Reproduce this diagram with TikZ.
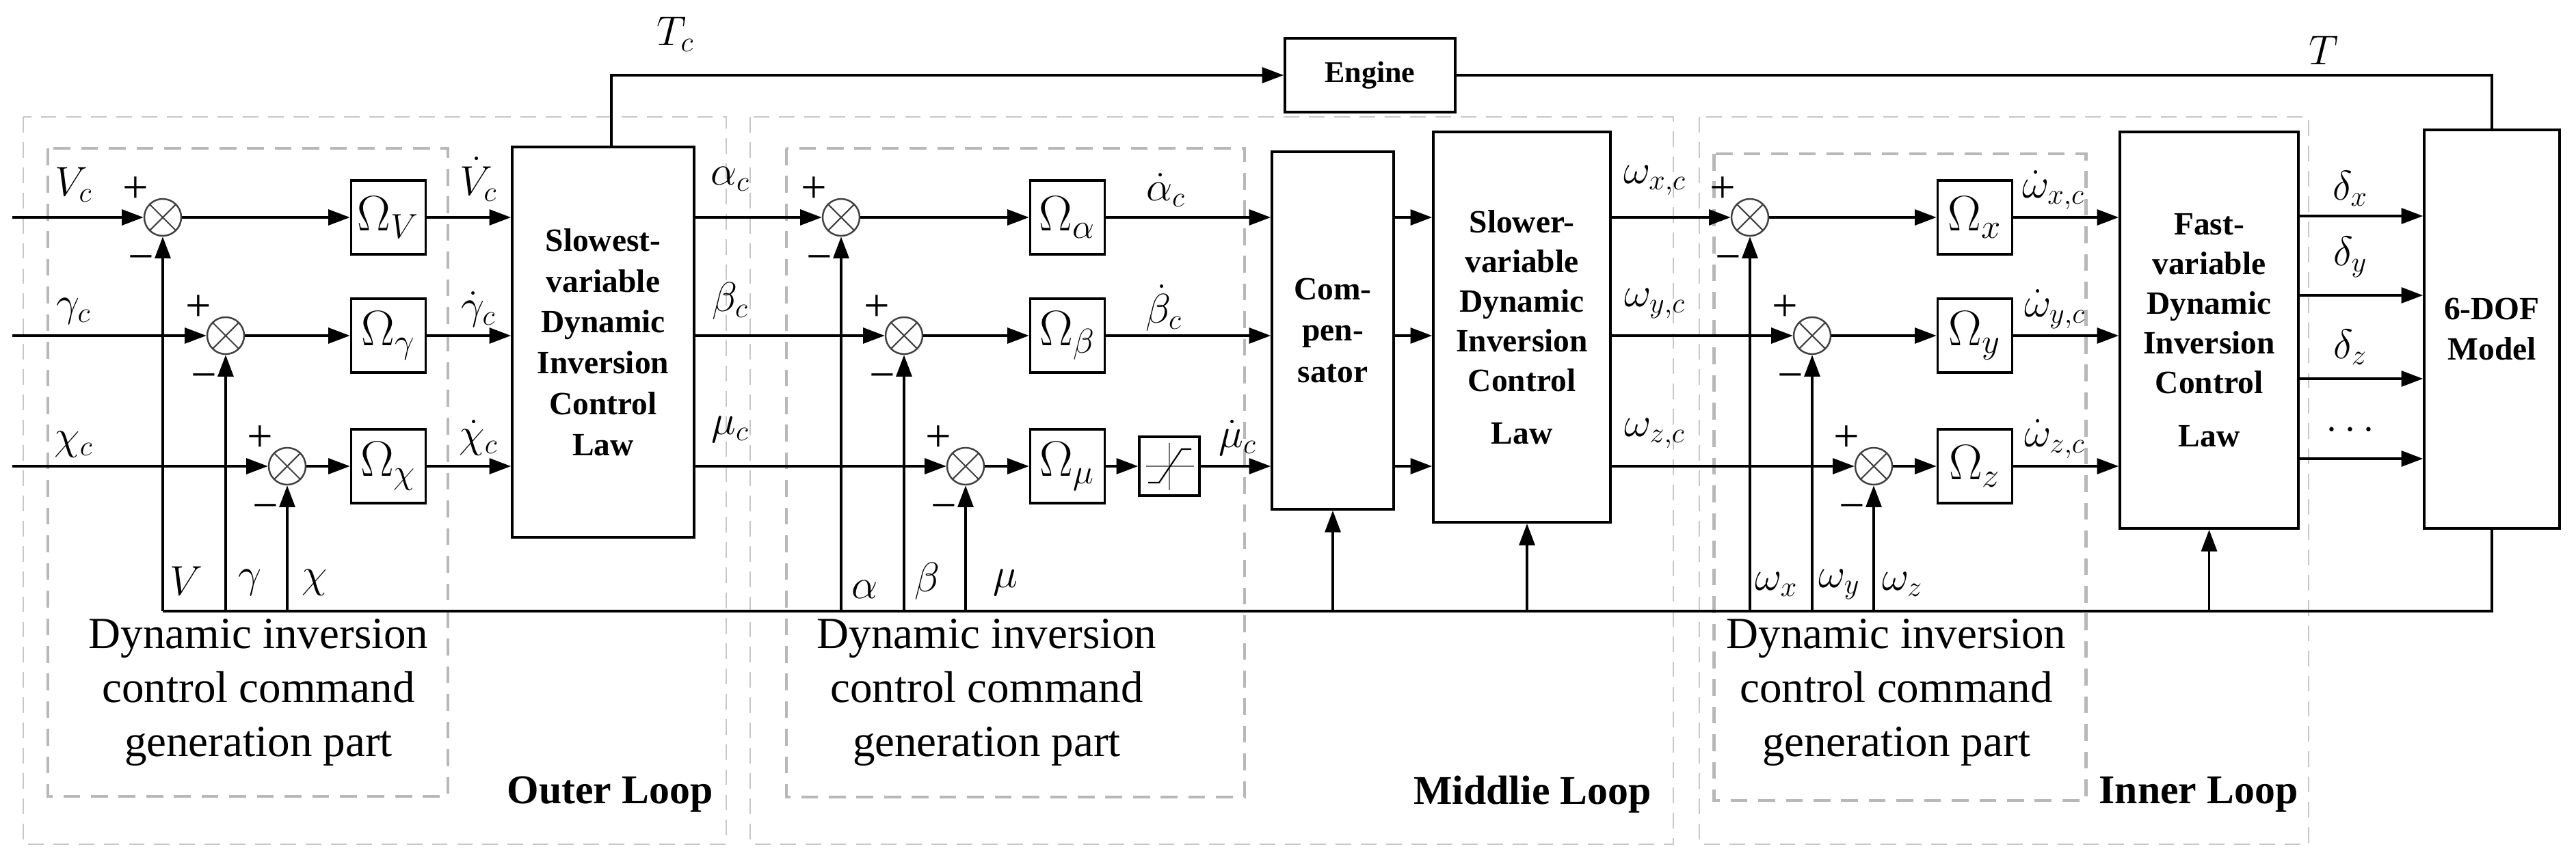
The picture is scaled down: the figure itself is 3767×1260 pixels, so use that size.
\documentclass[tikz,border=0pt]{standalone}
\usepackage{fontspec}
\setmainfont{Liberation Serif}
\usetikzlibrary{arrows.meta,calc}
\begin{document}
\begin{tikzpicture}[x=0.01cm,y=-0.01cm,
  line width=1pt,
  arr/.style={-{Triangle[length=9pt,width=6.5pt]}},
  blk/.style={draw, line width=1pt, fill=white, inner sep=0pt, align=center, font=\fontsize{13.5}{16.5}\selectfont\bfseries},
  omg/.style={draw, line width=1pt, minimum width=1.09cm, minimum height=1.08cm, inner sep=0pt, font=\fontsize{20}{24}\selectfont},
  sumj/.style={draw=black!75, circle, minimum size=0.54cm, inner sep=0pt, line width=0.7pt,
    path picture={\draw[black!75,line width=0.6pt] (path picture bounding box.north west)--(path picture bounding box.south east) (path picture bounding box.north east)--(path picture bounding box.south west);}},
  lbl/.style={font=\fontsize{18}{22}\selectfont, inner sep=0pt},
  sgn/.style={font=\fontsize{19}{22}\selectfont, inner sep=0pt},
  loopbox/.style={draw=black!22, line width=0.8pt, dash pattern=on 6.5pt off 4pt},
  genbox/.style={draw=black!28, line width=1.4pt, dash pattern=on 7pt off 4.5pt},
  desc/.style={align=center, font=\fontsize{18.5}{22.5}\selectfont, inner sep=0pt},
  looplbl/.style={font=\fontsize{17}{20}\selectfont\bfseries, inner sep=0pt},
]
\useasboundingbox (0,0) rectangle (3767,1260);

% ---------- dashed frames ----------
\draw[loopbox] (34,171) rectangle (1062,1235);
\draw[loopbox] (1097,171) rectangle (2447,1235);
\draw[loopbox] (2485,171) rectangle (3376,1235);
\draw[genbox] (70,217) rectangle (655,1165);
\draw[genbox] (1150,217) rectangle (1820,1166);
\draw[genbox] (2506,225) rectangle (3050,1171);

% ---------- blocks ----------
\node[blk, minimum width=2.66cm, minimum height=5.71cm, font=\fontsize{13.5}{17}\selectfont\bfseries] (slowest) at (882,500.5) {Slowest-\\variable\\Dynamic\\Inversion\\Control\\Law};
\node[blk, minimum width=1.78cm, minimum height=5.23cm, font=\fontsize{13.5}{17.3}\selectfont\bfseries] (comp) at (1949,483.5) {Com-\\pen-\\sator};
\node[blk, minimum width=2.59cm, minimum height=5.71cm] (slower) at (2225.5,478.5) {Slower-\\variable\\Dynamic\\Inversion\\Control\\[5.5pt]Law};
\node[blk, minimum width=2.61cm, minimum height=5.80cm] (fast) at (3230.5,483) {Fast-\\variable\\Dynamic\\Inversion\\Control\\[5.5pt]Law};
\node[blk, minimum width=1.98cm, minimum height=5.83cm, font=\fontsize{13.5}{17}\selectfont\bfseries] (dof) at (3644,481.5) {6-DOF\\Model};
\node[blk, minimum width=2.49cm, minimum height=1.08cm, font=\fontsize{12.5}{15}\selectfont\bfseries] (engine) at (2003.5,110) {Engine};

% ---------- sum junctions ----------
\node[sumj] (jV) at (238,318) {};
\node[sumj] (jG) at (330,491) {};
\node[sumj] (jC) at (420,682) {};
\node[sumj] (jA) at (1230,318) {};
\node[sumj] (jB) at (1322,491) {};
\node[sumj] (jM) at (1412,682) {};
\node[sumj] (jX) at (2559,318) {};
\node[sumj] (jY) at (2650,491) {};
\node[sumj] (jZ) at (2740,682) {};

% ---------- Omega boxes ----------
\node[omg] (oV) at (568,318) {$\Omega_V$};
\node[omg] (oG) at (568,491) {$\Omega_\gamma$};
\node[omg] (oC) at (568,682) {$\Omega_\chi$};
\node[omg] (oA) at (1561,318) {$\Omega_\alpha$};
\node[omg] (oB) at (1561,491) {$\Omega_\beta$};
\node[omg] (oM) at (1561,682) {$\Omega_\mu$};
\node[omg] (oX) at (2888,318) {$\Omega_x$};
\node[omg] (oY) at (2888,491) {$\Omega_y$};
\node[omg] (oZ) at (2888,682) {$\Omega_z$};

% saturation block
\node[draw, line width=1pt, minimum width=0.88cm, minimum height=0.86cm, inner sep=0pt] (sat) at (1710,682) {};
\draw[black!55, line width=0.8pt] (1676,682) -- (1746,682) (1710,648) -- (1710,717);
\draw[line width=0.6pt] (1679,706) -- (1695,706) -- (1728,657) -- (1742,657);

% ---------- coordinates ----------
\coordinate (inV) at (18,318);
\coordinate (inG) at (18,491);
\coordinate (inC) at (18,682);
\coordinate (fbV) at (238,894);
\coordinate (fbG) at (330,894);
\coordinate (fbC) at (420,894);
\coordinate (fbA) at (1230,894);
\coordinate (fbB) at (1322,894);
\coordinate (fbM) at (1412,894);
\coordinate (fbX) at (2559,894);
\coordinate (fbY) at (2650,894);
\coordinate (fbZ) at (2740,894);
\coordinate (fbS) at (2233,894);
\coordinate (tcx) at (894,0);
\coordinate (d1) at (0,316);
\coordinate (d2) at (0,432);
\coordinate (d3) at (0,554);
\coordinate (d4) at (0,671);

% ---------- connectors: outer loop ----------
\draw[arr] (inV) -- (jV);
\draw[arr] (inG) -- (jG);
\draw[arr] (inC) -- (jC);
\draw[arr] (jV) -- (oV);
\draw[arr] (jG) -- (oG);
\draw[arr] (jC) -- (oC);
\draw[arr] (oV) -- (oV -| slowest.west);
\draw[arr] (oG) -- (oG -| slowest.west);
\draw[arr] (oC) -- (oC -| slowest.west);
\draw[arr] (fbV) -- (jV);
\draw[arr] (fbG) -- (jG);
\draw[arr] (fbC) -- (jC);

% main feedback line
\draw (dof.south) |- (fbV);

% ---------- middle loop ----------
\draw[arr] (slowest.east |- jA) -- (jA);
\draw[arr] (slowest.east |- jB) -- (jB);
\draw[arr] (slowest.east |- jM) -- (jM);
\draw[arr] (jA) -- (oA);
\draw[arr] (jB) -- (oB);
\draw[arr] (jM) -- (oM);
\draw[arr] (oA) -- (oA -| comp.west);
\draw[arr] (oB) -- (oB -| comp.west);
\draw[arr] (oM) -- (sat);
\draw[arr] (sat) -- (sat -| comp.west);
\draw[arr] (fbA) -- (jA);
\draw[arr] (fbB) -- (jB);
\draw[arr] (fbM) -- (jM);
\draw[arr] (comp.east |- jA) -- (slower.west |- jA);
\draw[arr] (comp.east |- jB) -- (slower.west |- jB);
\draw[arr] (comp.east |- jM) -- (slower.west |- jM);
\draw[arr] (comp.south |- fbV) -- (comp.south);
\draw[arr] (fbS) -- (fbS |- slower.south);

% ---------- inner loop ----------
\draw[arr] (slower.east |- jX) -- (jX);
\draw[arr] (slower.east |- jY) -- (jY);
\draw[arr] (slower.east |- jZ) -- (jZ);
\draw[arr] (jX) -- (oX);
\draw[arr] (jY) -- (oY);
\draw[arr] (jZ) -- (oZ);
\draw[arr] (oX) -- (oX -| fast.west);
\draw[arr] (oY) -- (oY -| fast.west);
\draw[arr] (oZ) -- (oZ -| fast.west);
\draw[arr] (fbX) -- (jX);
\draw[arr] (fbY) -- (jY);
\draw[arr] (fbZ) -- (jZ);
\draw[arr] (fast.south |- fbV) -- (fast.south);
\draw[arr] (fast.east |- d1) -- (dof.west |- d1);
\draw[arr] (fast.east |- d2) -- (dof.west |- d2);
\draw[arr] (fast.east |- d3) -- (dof.west |- d3);
\draw[arr] (fast.east |- d4) -- (dof.west |- d4);

% ---------- thrust path ----------
\draw[arr] (tcx |- slowest.north) |- (engine.west);
\draw (engine.east) -| (dof.north);

% ---------- labels ----------
\node[lbl] (lTc) at (988,50) {$T_c$};
\node[lbl] (lT) at (3398,74) {$T$};

\node[lbl] (lVc) at (108,270) {$V_c$};
\node[lbl] (lGc) at (108,455) {$\gamma_c$};
\node[lbl] (lCc) at (108,650) {$\chi_c$};
\node[lbl] (lVd) at (700,262) {$\dot{V}_c$};
\node[lbl] (lGd) at (700,452) {$\dot{\gamma}_c$};
\node[lbl] (lCd) at (700,640) {$\dot{\chi}_c$};
\node[lbl] (lV) at (272,850) {$V$};
\node[lbl] (lG) at (366,852) {$\gamma$};
\node[lbl] (lC) at (460,852) {$\chi$};

\node[lbl] (lAc) at (1068,262) {$\alpha_c$};
\node[lbl] (lBc) at (1068,440) {$\beta_c$};
\node[lbl] (lMc) at (1068,628) {$\mu_c$};
\node[lbl] (lAd) at (1705,278) {$\dot{\alpha}_c$};
\node[lbl] (lBd) at (1702,450) {$\dot{\beta}_c$};
\node[lbl] (lMd) at (1810,640) {$\dot{\mu}_c$};
\node[lbl] (lA) at (1265,862) {$\alpha$};
\node[lbl] (lB) at (1356,850) {$\beta$};
\node[lbl] (lM) at (1470,852) {$\mu$};

\node[lbl] (lXc) at (2420,264) {$\omega_{x,c}$};
\node[lbl] (lYc) at (2420,444) {$\omega_{y,c}$};
\node[lbl] (lZc) at (2420,634) {$\omega_{z,c}$};
\node[lbl] (lXd) at (3003,278) {$\dot{\omega}_{x,c}$};
\node[lbl] (lYd) at (3005,452) {$\dot{\omega}_{y,c}$};
\node[lbl] (lZd) at (3005,642) {$\dot{\omega}_{z,c}$};
\node[lbl] (lX) at (2598,855) {$\omega_x$};
\node[lbl] (lY) at (2690,855) {$\omega_y$};
\node[lbl] (lZ) at (2782,855) {$\omega_z$};

\node[lbl] (ldx) at (3437,276) {$\delta_x$};
\node[lbl] (ldy) at (3437,376) {$\delta_y$};
\node[lbl] (ldz) at (3437,508) {$\delta_z$};
\node[lbl] (ldd) at (3437,630) {$\cdots$};

% plus / minus signs
\foreach \j in {jV,jG,jC,jA,jB,jM,jX,jY,jZ}{
  \node[sgn] (p\j) at ($(\j)+(-40,-40)$) {+};
  \node[sgn] (m\j) at ($(\j)+(-32,68)$) {−};
}

% descriptions
\node[desc] (g1) at (378,1013) {Dynamic inversion\\control command\\generation part};
\node[desc] (g2) at (1443,1013) {Dynamic inversion\\control command\\generation part};
\node[desc] (g3) at (2773,1013) {Dynamic inversion\\control command\\generation part};

\node[looplbl] (lo) at (892,1162) {Outer Loop};
\node[looplbl] (lm) at (2241,1162) {Middlie Loop};
\node[looplbl] (li) at (3215,1162) {Inner Loop};
\end{tikzpicture}
\end{document}
